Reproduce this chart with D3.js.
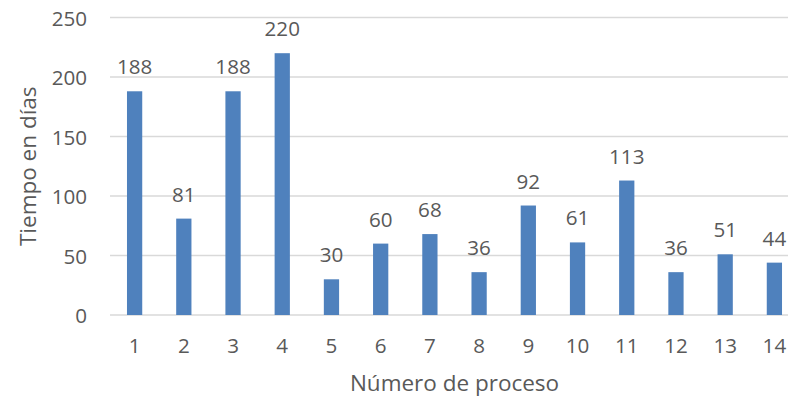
<!DOCTYPE html>
<html>
<head>
<meta charset="utf-8">
<script src="https://cdn.jsdelivr.net/npm/d3@7"></script>
<style>
  html, body { margin: 0; padding: 0; background: #fff; }
  svg { display: block; }
  text { font-family: "Open Sans", sans-serif; fill: #595959; }
</style>
</head>
<body>
<svg id="chart" width="788" height="397"></svg>
<script>
// Days per process
const procesos = ["1","2","3","4","5","6","7","8","9","10","11","12","13","14"];
const dias = [188, 81, 188, 220, 30, 60, 68, 36, 92, 61, 113, 36, 51, 44];
const yTicks = [0, 50, 100, 150, 200, 250];

const svg = d3.select("#chart");
const plotLeft = 110, plotRight = 799, plotTop = 17.5, plotBottom = 315;
const numSize = 20.6, titleSize = 22.5;

const x = d3.scaleBand().domain(procesos).range([plotLeft, plotRight]).paddingInner(0.69).paddingOuter(0.345);
const y = d3.scaleLinear().domain([0, 250]).range([plotBottom, plotTop]);

// horizontal gridlines
svg.append("g").selectAll("line").data(yTicks).join("line")
  .attr("x1", plotLeft).attr("x2", 788)
  .attr("y1", d => y(d)).attr("y2", d => y(d))
  .attr("stroke", "#d9d9d9").attr("stroke-width", 1.5);

// y tick labels
svg.append("g").selectAll("text").data(yTicks).join("text")
  .attr("x", 87).attr("y", d => y(d))
  .attr("text-anchor", "end").attr("dominant-baseline", "central")
  .attr("font-size", numSize)
  .text(d => d);

// bars
svg.append("g").selectAll("rect").data(dias).join("rect")
  .attr("x", (d, i) => x(procesos[i]))
  .attr("width", x.bandwidth())
  .attr("y", d => y(d))
  .attr("height", d => y(0) - y(d))
  .attr("fill", "#4f81bd");

// value labels
svg.append("g").selectAll("text").data(dias).join("text")
  .attr("x", (d, i) => x(procesos[i]) + x.bandwidth() / 2)
  .attr("y", d => y(d) - 17)
  .attr("text-anchor", "middle")
  .attr("font-size", numSize)
  .text(d => d);

// x tick labels
svg.append("g").selectAll("text").data(procesos).join("text")
  .attr("x", d => x(d) + x.bandwidth() / 2)
  .attr("y", 353)
  .attr("text-anchor", "middle")
  .attr("font-size", numSize)
  .text(d => d);

// axis titles
svg.append("text")
  .attr("x", (plotLeft + plotRight) / 2).attr("y", 391)
  .attr("text-anchor", "middle").attr("font-size", titleSize)
  .text("Número de proceso");

svg.append("text")
  .attr("transform", `translate(36,${(plotTop + plotBottom) / 2}) rotate(-90)`)
  .attr("text-anchor", "middle").attr("font-size", titleSize)
  .text("Tiempo en días");
</script>
</body>
</html>
